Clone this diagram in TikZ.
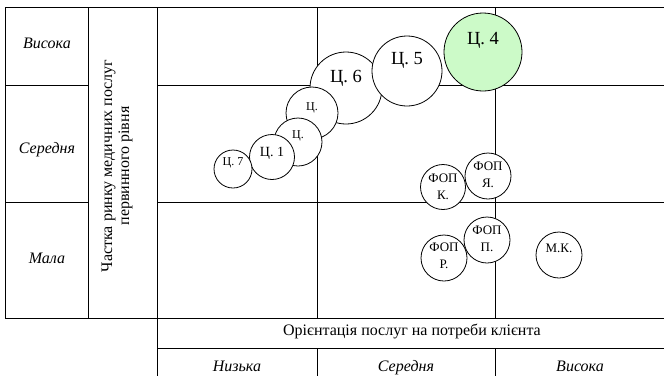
\documentclass[tikz,border=0pt]{standalone}
\usepackage{fontspec}
\setmainfont{Liberation Serif}
\definecolor{leadgreen}{RGB}{204,250,200}

\begin{document}
\begin{tikzpicture}[x=1pt, y=-1pt]
    \tikzstyle{every node} = [align=center, inner sep=0pt]
    \tikzstyle{grid} = [line width=0.9pt]
    \tikzstyle{axis} = [font=\fontsize{16}{18}\selectfont\itshape, anchor=base]
    \tikzstyle{title} = [font=\fontsize{16}{17}\selectfont]
    \tikzstyle{bubble} = [draw, circle, fill=white, line width=0.8pt]
    \tikzstyle{leader} = [fill=leadgreen]
    \tikzstyle{big} = [font=\fontsize{18.5}{20}\selectfont]
    \tikzstyle{mid} = [font=\fontsize{14}{16}\selectfont]
    \tikzstyle{small} = [font=\fontsize{13}{16.5}\selectfont]
    \tikzstyle{tiny} = [font=\fontsize{12}{14}\selectfont]
    \useasboundingbox (0,0) rectangle (664,376);

    % table lines
    \draw[grid] (5,7) -- (664,7);
    \draw[grid] (5,85) -- (88,85) (157,85) -- (664,85);
    \draw[grid] (5,202) -- (88,202) (157,202) -- (664,202);
    \draw[grid] (5,318) -- (664,318);
    \draw[grid] (157,348) -- (664,348);
    \draw[grid] (5,7) -- (5,318) (88,7) -- (88,318) (157,7) -- (157,376);
    \draw[grid] (317,7) -- (317,318) (317,348) -- (317,376);
    \draw[grid] (495,7) -- (495,318) (495,348) -- (495,376);

    % axis texts
    \node[axis] (rowhi) at (47,48) {Висока};
    \node[axis] (rowmid) at (47,153) {Середня};
    \node[axis] (rowlow) at (47,263) {Мала};
    \node[title, rotate=90] (share) at (117,166) {Частка ринку медичних послуг\\первинного рівня};
    \node[title, anchor=base] (orient) at (412,335) {Орієнтація послуг на потреби клієнта};
    \node[axis] (collow) at (237,371) {Низька};
    \node[axis] (colmid) at (406,371) {Середня};
    \node[axis] (colhi) at (580,371) {Висока};

    % centres
    \node[bubble, minimum size=72pt, label={[big, yshift=10pt]center:Ц. 6}] (c6) at (346,88) {};
    \node[bubble, minimum size=70pt, label={[big, yshift=11pt]center:Ц. 5}] (c5) at (407,71) {};
    \node[bubble, leader, minimum size=78pt, label={[big, yshift=12pt]center:Ц. 4}] (c4) at (483,52) {};
    \node[bubble, minimum size=52pt, label={[tiny, yshift=5pt]center:Ц.}] (c3) at (312,113) {};
    \node[bubble, minimum size=48pt, label={[tiny, yshift=6pt]center:Ц.}] (c2) at (298,142) {};
    \node[bubble, minimum size=45pt, label={[mid, yshift=4pt]center:Ц. 1}] (c1) at (272,157) {};
    \node[bubble, minimum size=38pt, label={[tiny, yshift=6pt]center:Ц. 7}] (c7) at (233,169) {};

    % private practices
    \node[bubble, minimum size=45pt, label={[small]center:ФОП\\К.}] (fopk) at (443,187) {};
    \node[bubble, minimum size=46pt, label={[small, yshift=1pt]center:ФОП\\Я.}] (fopya) at (488,176) {};
    \node[bubble, minimum size=46pt, label={[small, yshift=2pt]center:ФОП\\Р.}] (fopr) at (444,258) {};
    \node[bubble, minimum size=46pt, label={[small, yshift=1pt]center:ФОП\\П.}] (fopp) at (487,240) {};
    \node[bubble, minimum size=46pt, label={[small, yshift=7pt]center:М.К.}] (mk) at (559,255) {};
\end{tikzpicture}
\end{document}
